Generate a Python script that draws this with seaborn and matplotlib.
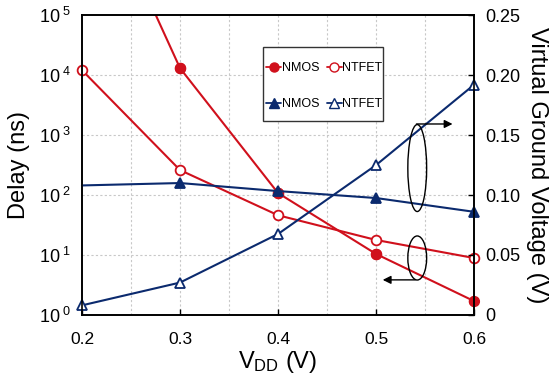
import matplotlib
matplotlib.use("Agg")
import matplotlib.pyplot as plt
from matplotlib.patches import Ellipse, Rectangle
from matplotlib.lines import Line2D
from matplotlib.ticker import FuncFormatter, FixedLocator
import numpy as np
import pandas as pd
import seaborn as sns

# Supply voltage sweep
vdd = [0.2, 0.3, 0.4, 0.5, 0.6]

# Delay (ns), left log axis
delay_nmos = [5.0e7, 1.31e4, 108, 10.4, 1.7]
delay_ntfet = [1.21e4, 261, 46, 17.8, 8.9]

# Virtual ground voltage (V), right axis
vgv_nmos = [0.108, 0.110, 0.1033, 0.0975, 0.086]
vgv_ntfet = [0.008, 0.027, 0.0675, 0.125, 0.192]

delay_ticks = [1, 10, 100, 1000, 1e4, 1e5]
vgv_ticks = [0, 0.05, 0.10, 0.15, 0.20, 0.25]
vgv_tick_labels = ["0", "0.05", "0.10", "0.15", "0.20", "0.25"]
x_ticks = [0.2, 0.3, 0.4, 0.5, 0.6]

sns.set_theme(style="white")
plt.rcParams["font.family"] = ["Liberation Sans", "DejaVu Sans"]
plt.rcParams["mathtext.fontset"] = "custom"
plt.rcParams["mathtext.rm"] = "Liberation Sans"
plt.rcParams["mathtext.it"] = "Liberation Sans:italic"
for key in ("text.color", "axes.labelcolor", "xtick.color", "ytick.color"):
    plt.rcParams[key] = "black"

RED = "#d0101c"
NAVY = "#0b2a6e"

df = pd.DataFrame({
    "vdd": vdd,
    "delay_nmos": delay_nmos,
    "delay_ntfet": delay_ntfet,
    "vgv_nmos": vgv_nmos,
    "vgv_ntfet": vgv_ntfet,
})

fig = plt.figure(figsize=(5.5, 3.79), dpi=100)
ax = fig.add_axes([0.149, 0.169, 0.713, 0.791])
ax2 = ax.twinx()

common = dict(linewidth=1.5, markersize=7, clip_on=False, markeredgewidth=1.3)

sns.lineplot(data=df, x="vdd", y="delay_nmos", ax=ax, color=RED, marker="o",
             markerfacecolor=RED, markeredgecolor=RED, **common)
sns.lineplot(data=df, x="vdd", y="delay_ntfet", ax=ax, color=RED, marker="o",
             markerfacecolor="white", markeredgecolor=RED, **common)
# the off-scale NMOS delay segment is cut at the frame
nmos_line = ax.get_lines()[0]
nmos_line.set_clip_on(True)
nmos_line.set_markevery([1, 2, 3, 4])
ax.plot(vdd[1:], delay_nmos[1:], linestyle="none", marker="o", markersize=7,
        color=RED, clip_on=False)

sns.lineplot(data=df, x="vdd", y="vgv_nmos", ax=ax2, color=NAVY, marker="^",
             markerfacecolor=NAVY, markeredgecolor=NAVY, markevery=[1, 2, 3, 4],
             **common)
sns.lineplot(data=df, x="vdd", y="vgv_ntfet", ax=ax2, color=NAVY, marker="^",
             markerfacecolor="white", markeredgecolor=NAVY, **common)

ax.set_yscale("log")
ax.set_ylim(1, 1e5)
ax.set_xlim(0.2, 0.6)
ax2.set_ylim(0, 0.25)

ax.yaxis.set_major_locator(FixedLocator(delay_ticks))
ax.yaxis.set_major_formatter(FuncFormatter(
    lambda v, p: r"$\mathregular{10^{\ %d}}$" % int(round(np.log10(v)))))
ax.yaxis.set_minor_locator(FixedLocator([]))
ax.set_xticks(x_ticks)
ax.set_xticklabels([f"{t:.1f}" for t in x_ticks])
ax2.set_yticks(vgv_ticks)
ax2.set_yticklabels(vgv_tick_labels)

# dotted grid
ax.grid(False)
ax2.grid(False)
for xv in np.arange(0.25, 0.6, 0.05):
    ax.axvline(xv, color="#c8c8c8", linestyle=(0, (2, 2)), linewidth=0.8, zorder=0)
for yv in delay_ticks[1:-1]:
    ax.axhline(yv, color="#c8c8c8", linestyle=(0, (2, 2)), linewidth=0.8, zorder=0)

ax.tick_params(axis="x", which="major", direction="in", length=4, width=1,
               labelsize=12.5, pad=12, bottom=True)
ax.tick_params(axis="y", which="both", length=0, labelsize=13, pad=8)
ax2.tick_params(axis="y", direction="in", length=4, width=1, labelsize=13,
                pad=8, right=True)

for a in (ax, ax2):
    for s in a.spines.values():
        s.set_color("black")
        s.set_linewidth(1.2)

ax.set_xlabel(r"$\mathregular{V_{DD}}$ (V)", fontsize=17, labelpad=2)
ax.set_ylabel("Delay (ns)", fontsize=17, labelpad=6)
ax2.set_ylabel("Virtual Ground Voltage (V)", fontsize=17, rotation=270,
               labelpad=20)

# group markers: ellipses with arrows pointing to the relevant axis
ax2.add_patch(Ellipse((0.855, 0.49), 0.048, 0.29, transform=ax2.transAxes,
                      fill=False, edgecolor="black", linewidth=1.0, zorder=5))
ax2.annotate("", xy=(0.945, 0.637), xytext=(0.853, 0.637),
             xycoords="axes fraction", textcoords="axes fraction",
             arrowprops=dict(arrowstyle="-|>", color="black", lw=1.0,
                             mutation_scale=12, shrinkA=0, shrinkB=0))
ax2.add_patch(Ellipse((0.855, 0.19), 0.048, 0.147, transform=ax2.transAxes,
                      fill=False, edgecolor="black", linewidth=1.0, zorder=5))
ax2.annotate("", xy=(0.767, 0.117), xytext=(0.85, 0.117),
             xycoords="axes fraction", textcoords="axes fraction",
             arrowprops=dict(arrowstyle="-|>", color="black", lw=1.0,
                             mutation_scale=12, shrinkA=0, shrinkB=0))

# legend box
ax2.add_patch(Rectangle((0.462, 0.647), 0.306, 0.246, transform=ax2.transAxes,
                        facecolor="white", edgecolor="#333333", linewidth=1.0,
                        zorder=6))
handles = [
    Line2D([], [], color=RED, marker="o", markerfacecolor=RED, markersize=6.5, lw=1.3),
    Line2D([], [], color=NAVY, marker="^", markerfacecolor=NAVY, markersize=6.5, lw=1.3),
    Line2D([], [], color=RED, marker="o", markerfacecolor="white", markersize=6.5, lw=1.3),
    Line2D([], [], color=NAVY, marker="^", markerfacecolor="white", markersize=6.5, lw=1.3),
]
labels = ["NMOS", "NMOS", "NTFET", "NTFET"]
leg = ax2.legend(handles, labels, ncol=2, loc="center",
                 bbox_to_anchor=(0.618, 0.763), fontsize=9, frameon=False,
                 handlelength=1.2, handletextpad=0.05, columnspacing=0.6,
                 labelspacing=1.9, borderpad=0, borderaxespad=0)
leg.set_zorder(7)

fig.savefig("out.png", dpi=100)
